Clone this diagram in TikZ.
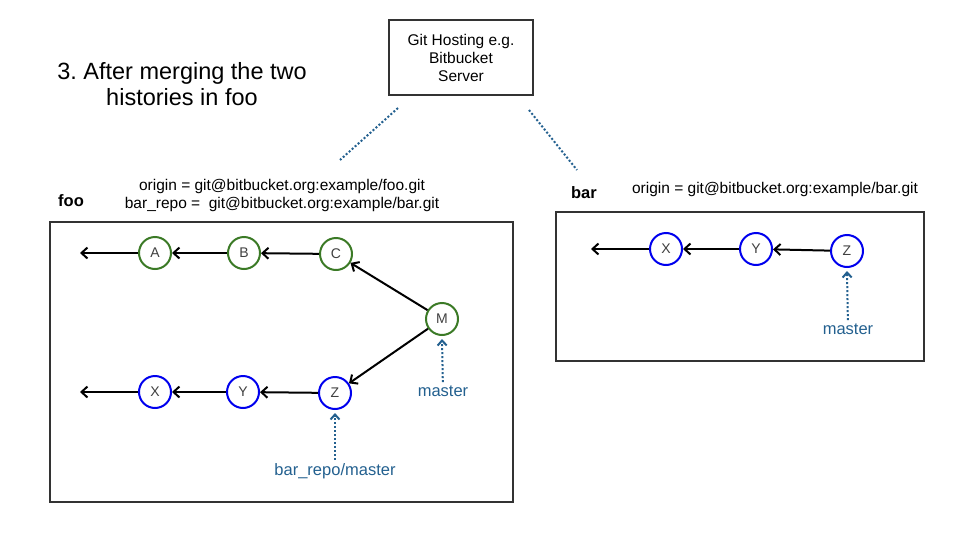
\documentclass[tikz,border=0pt]{standalone}
\usepackage{fontspec}
\setmainfont{Liberation Sans}
\usepackage{tikz}
\usetikzlibrary{arrows.meta, positioning}
\definecolor{commitgreen}{HTML}{3B7A26}
\definecolor{commitblue}{HTML}{0000EE}
\definecolor{refblue}{HTML}{23608F}
\definecolor{boxgrey}{HTML}{333333}
\tikzstyle{repo} = [rectangle, draw=boxgrey, line width=2pt]
\tikzstyle{commit} = [circle, minimum size=32pt, inner sep=0pt, line width=2pt, fill=white, text=black!75, font=\fontsize{14}{16}\selectfont]
\tikzstyle{oldc} = [commit, draw=commitgreen]
\tikzstyle{newc} = [commit, draw=commitblue]
\tikzstyle{parent} = [line width=2pt, ->, >={Straight Barb[length=6pt, width=11pt]}]
\tikzstyle{branch} = [refblue, line width=2pt, dotted, ->, >={Straight Barb[length=5pt, width=9pt]}]
\tikzstyle{link} = [refblue, line width=2pt, dotted]
\tikzstyle{ref} = [text=refblue, font=\fontsize{16.5}{19}\selectfont]

\begin{document}
\begin{tikzpicture}[x=1pt, y=-1pt, every node/.style={font=\fontsize{15.5}{18}\selectfont}]
  \useasboundingbox (0,0) rectangle (964,533);

  % Server
  \node[repo, minimum width=144pt, minimum height=75pt, align=center] (host) at (461,57.5) {Git Hosting e.g.\\Bitbucket\\Server};
  \node[align=center, font=\fontsize{23.5}{26}\selectfont] (title) at (182,84) {3.\ After merging the two\\histories in foo};
  \coordinate (hostl) at (398,108);
  \coordinate (hostr) at (529,110);
  \coordinate (fooend) at (340,160);
  \coordinate (barend) at (577,170);
  \draw[link] (hostl) -- (fooend);
  \draw[link] (hostr) -- (barend);

  % Repositories
  \node[repo, minimum width=463pt, minimum height=280pt] (foo) at (281.5,362) {};
  \node[repo, minimum width=368pt, minimum height=149pt] (bar) at (740,286.5) {};
  \node[font=\fontsize{16.5}{19}\selectfont\bfseries] (fooname) at (71,201) {foo};
  \node[font=\fontsize{16.5}{19}\selectfont\bfseries] (barname) at (584,193) {bar};
  \node[align=center] (foourl) at (282,195) {origin = git@bitbucket.org:example/foo.git\\bar\_repo = \ git@bitbucket.org:example/bar.git};
  \node (barurl) at (775,189) {origin = git@bitbucket.org:example/bar.git};

  % Commits in foo
  \node[oldc] (a) at (155,253) {A};
  \node[oldc] (b) at (244,253) {B};
  \node[oldc] (c) at (336,254) {C};
  \node[oldc] (m) at (442,319) {M};
  \node[newc] (fx) at (155,392) {X};
  \node[newc] (fy) at (243,392) {Y};
  \node[newc] (fz) at (335,393) {Z};
  \coordinate (aend) at (80,253);
  \coordinate (xend) at (80,392);

  % Commits in bar
  \node[newc] (bx) at (666,249) {X};
  \node[newc] (by) at (756,249) {Y};
  \node[newc] (bz) at (847,251) {Z};
  \coordinate (bxend) at (591,249);

  % Parents
  \draw[parent] (a) -- (aend);
  \draw[parent] (b) -- (a);
  \draw[parent] (c) -- (b);
  \draw[parent] (m) -- (c);
  \draw[parent] (m) -- (fz);
  \draw[parent] (fz) -- (fy);
  \draw[parent] (fy) -- (fx);
  \draw[parent] (fx) -- (xend);
  \draw[parent] (bz) -- (by);
  \draw[parent] (by) -- (bx);
  \draw[parent] (bx) -- (bxend);

  % Branches
  \node[ref] (foomaster) at (443,391) {master};
  \node[ref] (barrepo) at (335,471) {bar\_repo/master};
  \node[ref] (barmaster) at (848,329) {master};
  \draw[branch] (foomaster) -- ([yshift=-3pt]m.south);
  \draw[branch] (barrepo) -- ([yshift=-3pt]fz.south);
  \draw[branch] (barmaster) -- ([yshift=-3pt]bz.south);
\end{tikzpicture}
\end{document}
